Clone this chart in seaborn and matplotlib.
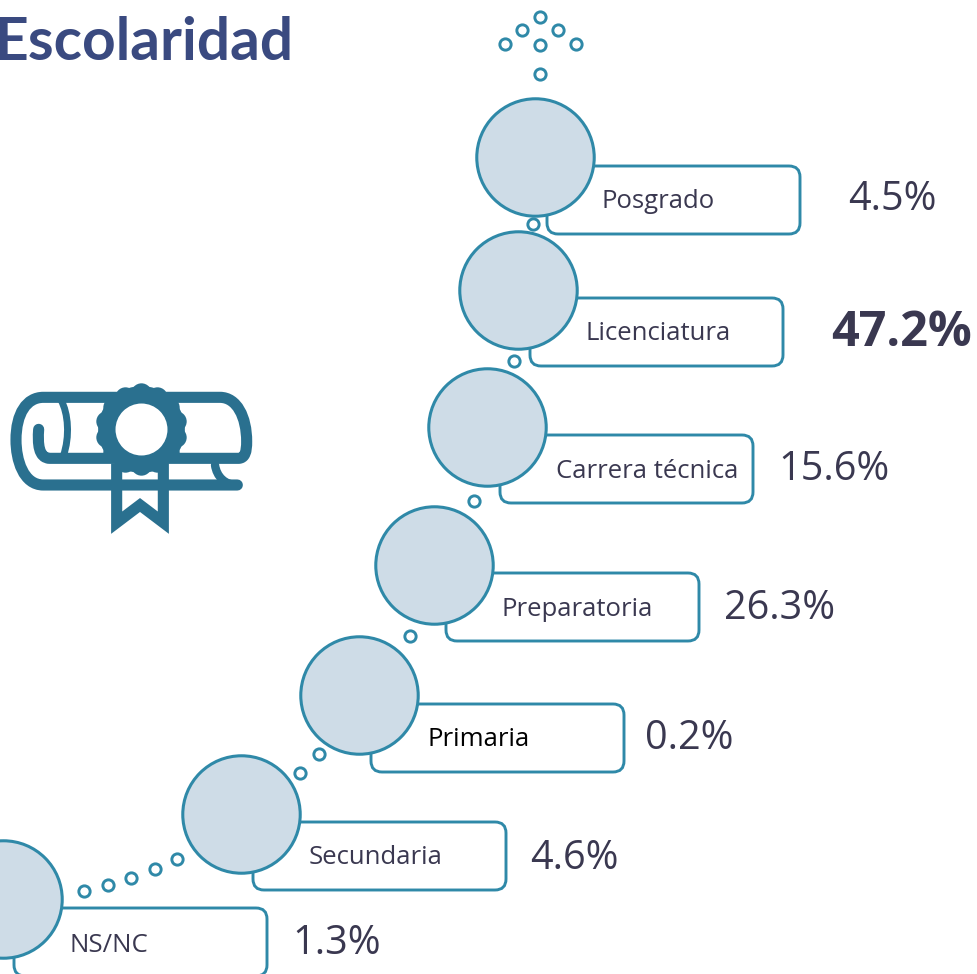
import numpy as np
import pandas as pd
import seaborn as sns
import matplotlib.pyplot as plt
from matplotlib.patches import FancyBboxPatch, PathPatch
from matplotlib.path import Path

# datos
niveles = ['Posgrado', 'Licenciatura', 'Carrera técnica', 'Preparatoria', 'Primaria', 'Secundaria', 'NS/NC']
porcentajes = [4.5, 47.2, 15.6, 26.3, 0.2, 4.6, 1.3]

# posiciones de la escalera, en pixeles de la imagen
circ_x = [535, 518, 487, 434, 359, 241, 3]
circ_y = [157, 290, 427, 565, 695, 814, 899]
caja_x = [547, 530, 500, 446, 371, 253, 14]
caja_y = [166, 298, 435, 573, 704, 822, 908]
etiq_x = [602, 586, 556, 502, 428, 309, 70]
etiq_y = [202, 334, 471, 609, 739, 858, 946]
val_x = [848, 831, 778, 724, 645, 530, 292]
val_y = [200, 333, 470, 609, 739, 859, 944]
punto_x = [540, 522, 558, 505, 540, 576, 540, 533, 514, 474, 410, 319, 300, 177, 155, 131, 108, 84]
punto_y = [17, 30, 30, 44, 45, 44, 74, 224, 361, 501, 636, 754, 773, 859, 869, 878, 885, 891]

AZUL = '#2F89A8'
RELLENO = '#CEDCE7'
ICONO = '#2A708F'
TEXTO = '#3A3850'

sns.set_theme(style='white')
plt.rcParams['font.family'] = ['Open Sans', 'DejaVu Sans']

df = pd.DataFrame({'nivel': niveles, 'pct': porcentajes, 'x': circ_x, 'y': circ_y})
puntos = pd.DataFrame({'x': punto_x, 'y': punto_y})

fig = plt.figure(figsize=(9.77, 9.74), dpi=100)
ax = fig.add_axes([0, 0, 1, 1])
ax.set_xlim(0, 977)
ax.set_ylim(974, 0)
ax.axis('off')

# cajas
for cx, cy in zip(caja_x, caja_y):
    ax.add_patch(FancyBboxPatch((cx, cy), 253, 68, boxstyle='round,pad=0,rounding_size=11',
                                fc='white', ec=AZUL, lw=2.1, zorder=1))

# circulos grandes y puntitos
sns.scatterplot(data=df, x='x', y='y', s=7150, color=RELLENO, edgecolor=AZUL,
                linewidth=2.2, ax=ax, zorder=2, legend=False)
sns.scatterplot(data=puntos, x='x', y='y', s=66, color='white', edgecolor=AZUL,
                linewidth=2.1, ax=ax, zorder=3, legend=False)
ax.set_xlabel('')
ax.set_ylabel('')

# textos
for i, nivel in enumerate(niveles):
    color = 'black' if nivel == 'Primaria' else TEXTO
    ax.text(etiq_x[i], etiq_y[i], nivel, fontsize=18.5,
            color=color, va='center', ha='left', family='Open Sans', zorder=4)
    negrita = porcentajes[i] == max(porcentajes)
    ax.text(val_x[i], val_y[i], '{:.1f}%'.format(porcentajes[i]), fontsize=35 if negrita else 28.5,
            fontweight='bold' if negrita else 'normal', color=TEXTO, va='center', ha='left',
            family='Open Sans', zorder=4)

ax.text(-6, 43, 'Escolaridad', fontsize=42.2, fontweight='bold', color='#3A4A80',
        va='center', ha='left', family='Lato', clip_on=True)

# icono del diploma: coordenadas sacadas del zoom
def z(x, y):
    return (x / 3, 370 + y / 3)

def trazo(verts, codes, lw=8, **kw):
    ax.add_patch(PathPatch(Path([z(*v) for v in verts], codes), fc='none', ec=ICONO, lw=lw,
                           capstyle='round', zorder=5, **kw))

M, L, C = Path.MOVETO, Path.LINETO, Path.CURVE4
trazo([(712, 345), (130, 345), (70, 345), (48, 270), (48, 210), (48, 130), (80, 82), (130, 82),
       (660, 82), (710, 82), (740, 140), (740, 215), (740, 245), (735, 265), (715, 265),
       (150, 265), (115, 265), (113, 220), (116, 178)],
      [M, L, C, C, C, C, C, C, L, C, C, C, C, C, C, L, C, C, C], joinstyle='round')
trazo([(183, 90), (205, 130), (210, 200), (190, 258)], [M, C, C, C], lw=5)
trazo([(645, 285), (650, 320), (675, 345), (712, 345)], [M, C, C, C], lw=6)
ax.add_patch(PathPatch(Path([z(*v) for v in [(350, 280), (350, 458), (420, 405), (490, 458), (490, 280)]],
                            [M, L, L, L, L]), fc='none', ec=ICONO, lw=8, capstyle='butt',
                       joinstyle='miter', zorder=5))

# roseta
ang = np.deg2rad(np.arange(0, 360, 360 / 14) + 13)
rx, ry = z(423, 178)
ax.scatter(rx + 36 * np.cos(ang), ry + 36 * np.sin(ang), s=215, color=ICONO, lw=0, zorder=6)
ax.scatter([rx], [ry], s=3900, color=ICONO, lw=0, zorder=6)
ax.scatter([rx], [ry], s=1400, color='white', lw=0, zorder=7)

fig.savefig('out.png', dpi=100)
